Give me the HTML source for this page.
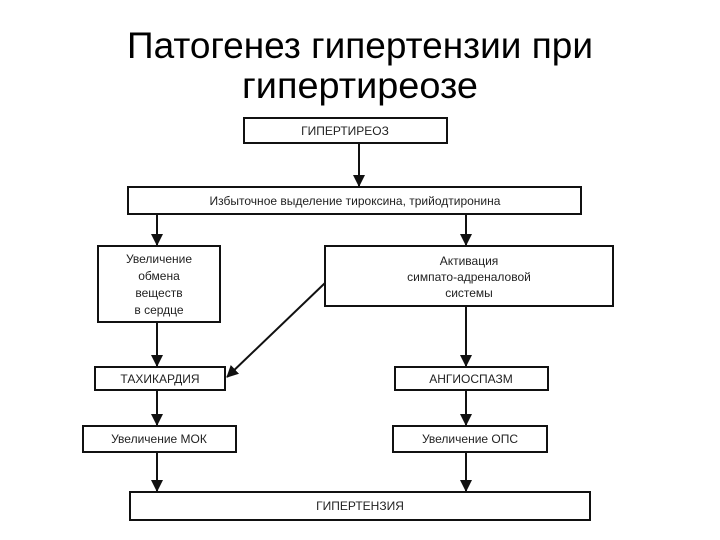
<!DOCTYPE html>
<html><head><meta charset="utf-8"><style>
html,body{margin:0;padding:0;background:#fff;}
svg{display:block;}
.t{font-family:"Liberation Sans","DejaVu Sans",sans-serif;fill:#000;}
.b{fill:#fff;stroke:#111;stroke-width:2;}
.s{font-family:"Liberation Sans",sans-serif;font-size:12px;fill:#222;text-anchor:middle;}
.l{stroke:#111;stroke-width:2;}
</style></head><body>
<svg width="720" height="540" viewBox="0 0 720 540">
<defs><marker id="a" markerWidth="8" markerHeight="8" refX="6" refY="4" orient="auto" markerUnits="userSpaceOnUse"><path d="M0,0 L8,4 L0,8 z" fill="#111"/></marker>
<marker id="ah" markerWidth="12" markerHeight="12" refX="11" refY="6" orient="auto" markerUnits="userSpaceOnUse"><path d="M0,0 L12,6 L0,12 z" fill="#111"/></marker></defs>
<text class="t" x="127" y="58" font-size="37" textLength="466" lengthAdjust="spacingAndGlyphs">Патогенез гипертензии при</text>
<text class="t" x="242" y="98" font-size="37" textLength="236" lengthAdjust="spacingAndGlyphs">гипертиреозе</text>

<rect class="b" x="244" y="118" width="203" height="25"/>
<text class="s" x="345" y="135">ГИПЕРТИРЕОЗ</text>
<rect class="b" x="128" y="187" width="453" height="27"/>
<text class="s" x="355" y="205">Избыточное выделение тироксина, трийодтиронина</text>
<rect class="b" x="98" y="246" width="122" height="76"/>
<text class="s" x="159" y="263">Увеличение</text>
<text class="s" x="159" y="280">обмена</text>
<text class="s" x="159" y="297">веществ</text>
<text class="s" x="159" y="314">в сердце</text>
<rect class="b" x="325" y="246" width="288" height="60"/>
<text class="s" x="469" y="265">Активация</text>
<text class="s" x="469" y="281">симпато-адреналовой</text>
<text class="s" x="469" y="297">системы</text>
<rect class="b" x="95" y="367" width="130" height="23"/>
<text class="s" x="160" y="383">ТАХИКАРДИЯ</text>
<rect class="b" x="395" y="367" width="153" height="23"/>
<text class="s" x="471" y="383">АНГИОСПАЗМ</text>
<rect class="b" x="83" y="426" width="153" height="26"/>
<text class="s" x="159" y="443">Увеличение МОК</text>
<rect class="b" x="393" y="426" width="154" height="26"/>
<text class="s" x="470" y="443">Увеличение ОПС</text>
<rect class="b" x="130" y="492" width="460" height="28"/>
<text class="s" x="360" y="510">ГИПЕРТЕНЗИЯ</text>

<line class="l" x1="359" y1="143" x2="359" y2="186" marker-end="url(#ah)"/>
<line class="l" x1="157" y1="214" x2="157" y2="245" marker-end="url(#ah)"/>
<line class="l" x1="466" y1="214" x2="466" y2="245" marker-end="url(#ah)"/>
<line class="l" x1="157" y1="322" x2="157" y2="366" marker-end="url(#ah)"/>
<line class="l" x1="466" y1="306" x2="466" y2="366" marker-end="url(#ah)"/>
<line class="l" x1="157" y1="390" x2="157" y2="425" marker-end="url(#ah)"/>
<line class="l" x1="466" y1="390" x2="466" y2="425" marker-end="url(#ah)"/>
<line class="l" x1="157" y1="452" x2="157" y2="491" marker-end="url(#ah)"/>
<line class="l" x1="466" y1="452" x2="466" y2="491" marker-end="url(#ah)"/>
<line class="l" x1="325" y1="283" x2="227" y2="377" marker-end="url(#ah)"/>
</svg>
</body></html>
